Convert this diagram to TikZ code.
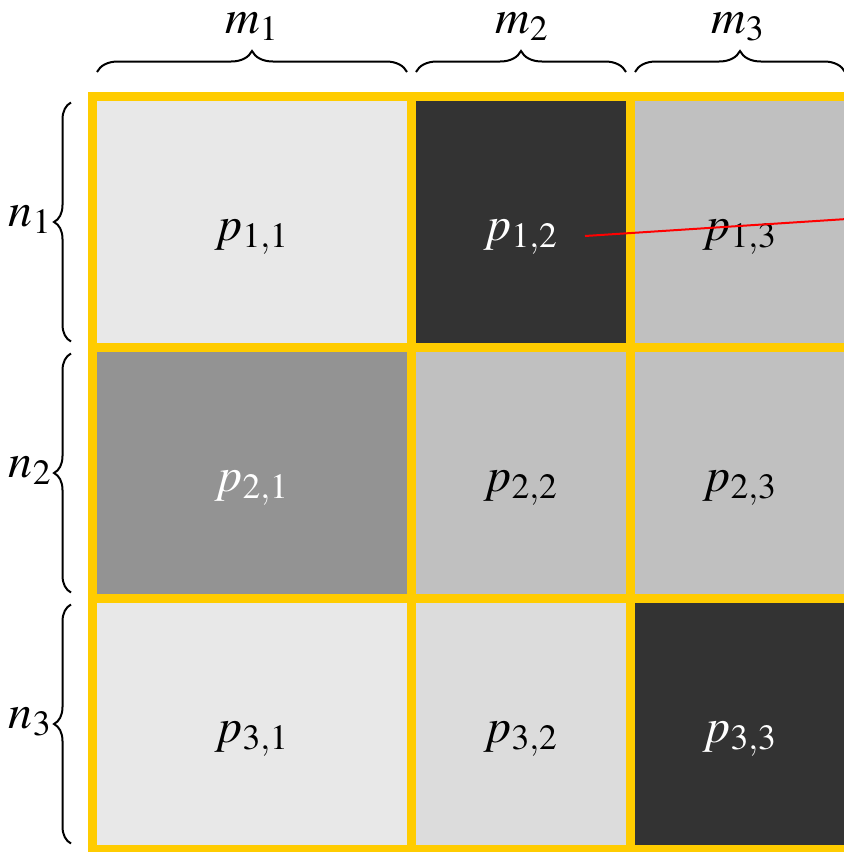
\documentclass[tikz,border=0pt]{standalone}
\usepackage{mathptmx}
\usetikzlibrary{positioning, decorations.pathreplacing}
\definecolor{cFrame}{HTML}{FFCC00}
\definecolor{cPale} {HTML}{E8E8E8}
\definecolor{cSoft} {HTML}{DCDCDC}
\definecolor{cMid}  {HTML}{C0C0C0}
\definecolor{cGrey} {HTML}{939393}
\definecolor{cDark} {HTML}{333333}

\begin{document}
\begin{tikzpicture}[x=0.5pt, y=-0.5pt,
      cell/.style  = {draw=cFrame, line width=4.25pt, minimum height=125.5pt, outer sep=0pt, inner sep=0pt, text height=18pt, text depth=0pt, font=\fontsize{24}{28}\selectfont},
      wide/.style  = {cell, minimum width=159.5pt},
      slim/.style  = {cell, minimum width=109.5pt},
      lab/.style   = {inner sep=0pt, font=\fontsize{24}{28}\selectfont},
      brace/.style = {decorate, decoration={brace, amplitude=#1}, line width=1pt} ]
    \useasboundingbox (0,0) rectangle (843,852);

    % grid
    \node[wide, fill=cPale]                             (c11) at (252,222) {$p_{1,1}$};
    \node[slim, fill=cDark, text=white, right=0pt of c11] (c12) {$p_{1,2}$};
    \node[slim, fill=cMid,  right=0pt of c12]             (c13) {$p_{1,3}$};
    \node[wide, fill=cGrey, text=white, below=0pt of c11] (c21) {$p_{2,1}$};
    \node[slim, fill=cMid,  right=0pt of c21]             (c22) {$p_{2,2}$};
    \node[slim, fill=cMid,  right=0pt of c22]             (c23) {$p_{2,3}$};
    \node[wide, fill=cPale, below=0pt of c21]             (c31) {$p_{3,1}$};
    \node[slim, fill=cSoft, right=0pt of c31]             (c32) {$p_{3,2}$};
    \node[slim, fill=cDark, text=white, right=0pt of c32] (c33) {$p_{3,3}$};

    % braces over the columns
    \draw[brace=10.5pt] ([xshift=2.25pt,yshift=12.25pt]c11.north west) -- ([xshift=-2.25pt,yshift=12.25pt]c11.north east);
    \draw[brace=10.5pt] ([xshift=2.25pt,yshift=12.25pt]c12.north west) -- ([xshift=-2.25pt,yshift=12.25pt]c12.north east);
    \draw[brace=10.5pt] ([xshift=2.25pt,yshift=12.25pt]c13.north west) -- ([xshift=-2.25pt,yshift=12.25pt]c13.north east);
    \node[lab, anchor=base] (m1) at (252,33) {$m_1$};
    \node[lab, anchor=base] (m2) at (522,33) {$m_2$};
    \node[lab, anchor=base] (m3) at (738,33) {$m_3$};

    % braces beside the rows
    \draw[brace=8.5pt] ([xshift=-10.75pt,yshift=3pt]c11.south west) -- ([xshift=-10.75pt,yshift=-3pt]c11.north west);
    \draw[brace=8.5pt] ([xshift=-10.75pt,yshift=3pt]c21.south west) -- ([xshift=-10.75pt,yshift=-3pt]c21.north west);
    \draw[brace=8.5pt] ([xshift=-10.75pt,yshift=3pt]c31.south west) -- ([xshift=-10.75pt,yshift=-3pt]c31.north west);
    \node[lab, anchor=base east] (n1) at (52,226) {$n_1$};
    \node[lab, anchor=base east] (n2) at (52,477) {$n_2$};
    \node[lab, anchor=base east] (n3) at (52,728) {$n_3$};

    % red line
    \coordinate (r0) at (585,236);
    \coordinate (r1) at (870,217.5);
    \draw[red, line width=1pt] (r0) -- (r1);
\end{tikzpicture}
\end{document}
